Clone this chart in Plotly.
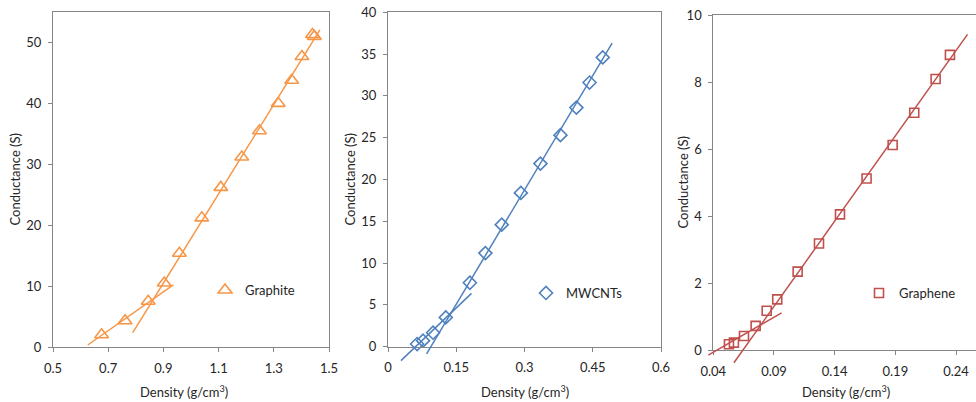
import plotly.graph_objects as go

W, H = 976, 402

# ---------------- data ----------------
graphite_density = [0.676, 0.761, 0.845, 0.903, 0.958, 1.039, 1.108, 1.184, 1.248,
                    1.316, 1.365, 1.402, 1.440, 1.447]
graphite_conductance = [2.0, 4.3, 7.5, 10.5, 15.4, 21.2, 26.2, 31.2, 35.5,
                        40.0, 43.8, 47.7, 51.3, 51.0]
graphite_fit_low_x = [0.626, 0.936]
graphite_fit_low_y = [0.33, 10.2]
graphite_fit_high_x = [0.789, 1.467]
graphite_fit_high_y = [2.35, 52.05]

mwcnt_density = [0.064, 0.077, 0.099, 0.127, 0.180, 0.214, 0.250, 0.292, 0.335,
                 0.379, 0.414, 0.443, 0.472]
mwcnt_conductance = [0.32, 0.72, 1.67, 3.5, 7.65, 11.2, 14.6, 18.4, 21.9,
                     25.3, 28.6, 31.6, 34.6]
mwcnt_fit_low_x = [0.0285, 0.1835]
mwcnt_fit_low_y = [-1.67, 6.38]
mwcnt_fit_high_x = [0.0848, 0.4926]
mwcnt_fit_high_y = [-0.87, 36.3]

graphene_density = [0.0529, 0.0570, 0.0653, 0.0749, 0.0840, 0.0927, 0.1095, 0.1271,
                    0.1444, 0.1663, 0.1878, 0.2056, 0.2232, 0.2350]
graphene_conductance = [0.17, 0.22, 0.42, 0.72, 1.17, 1.51, 2.34, 3.18,
                        4.05, 5.12, 6.12, 7.08, 8.09, 8.81]
graphene_fit_low_x = [0.0359, 0.0963]
graphene_fit_low_y = [-0.15, 1.11]
graphene_fit_high_x = [0.0570, 0.2495]
graphene_fit_high_y = [-0.38, 9.42]

graphite_xticks = [0.5, 0.7, 0.9, 1.1, 1.3, 1.5]
graphite_xticklabels = ["0.5", "0.7", "0.9", "1.1", "1.3", "1.5"]
graphite_yticks = [0, 10, 20, 30, 40, 50]
mwcnt_xticks = [0, 0.15, 0.3, 0.45, 0.6]
mwcnt_xticklabels = ["0", "0.15", "0.3", "0.45", "0.6"]
mwcnt_yticks = [0, 5, 10, 15, 20, 25, 30, 35, 40]
graphene_xticks = [0.04, 0.09, 0.14, 0.19, 0.24]
graphene_xticklabels = ["0.04", "0.09", "0.14", "0.19", "0.24"]
graphene_yticks = [0, 2, 4, 6, 8, 10]

# ---------------- styling ----------------
FONT = "Lato, 'Open Sans', sans-serif"
TXT = "#262626"
AX = "#868686"
C_GRAPHITE = "#F79646"
C_MWCNT = "#4F81BD"
C_GRAPHENE = "#C0504D"
EXT = 22  # px of extra room for the trend-line layer (lines run past the axes)

panels = [
    dict(name="Graphite", x=graphite_density, y=graphite_conductance,
         fits=[(graphite_fit_low_x, graphite_fit_low_y), (graphite_fit_high_x, graphite_fit_high_y)],
         color=C_GRAPHITE, symbol="triangle-up-open", msize=12,
         px=(53, 329), py=(12, 347), xr=[0.5, 1.5], yr=[0, 55],
         xt=graphite_xticks, xtl=graphite_xticklabels, yt=graphite_yticks,
         ymirror=True, legend_px=(205, 290), xtitle_x=184, ytitle_x=15),
    dict(name="MWCNTs", x=mwcnt_density, y=mwcnt_conductance,
         fits=[(mwcnt_fit_low_x, mwcnt_fit_low_y), (mwcnt_fit_high_x, mwcnt_fit_high_y)],
         color=C_MWCNT, symbol="diamond-open", msize=10,
         px=(388, 661), py=(12.3, 346.7), xr=[0, 0.6], yr=[0, 40],
         xt=mwcnt_xticks, xtl=mwcnt_xticklabels, yt=mwcnt_yticks,
         ymirror=True, legend_px=(526, 293), xtitle_x=525, ytitle_x=350),
    dict(name="Graphene", x=graphene_density, y=graphene_conductance,
         fits=[(graphene_fit_low_x, graphene_fit_low_y), (graphene_fit_high_x, graphene_fit_high_y)],
         color=C_GRAPHENE, symbol="square-open", msize=9,
         px=(713.3, 976), py=(15, 350), xr=[0.04, 0.04 + (976 - 713.3) / 1213.5], yr=[0, 10],
         xt=graphene_xticks, xtl=graphene_xticklabels, yt=graphene_yticks,
         ymirror=False, legend_px=(859, 293), xtitle_x=846, ytitle_x=682),
]

fig = go.Figure()
layout = dict(
    width=W, height=H,
    margin=dict(l=0, r=0, t=0, b=0, pad=0, autoexpand=False),
    paper_bgcolor="white", plot_bgcolor="rgba(0,0,0,0)",
    font=dict(family=FONT, size=13, color=TXT),
    annotations=[],
)

for i, p in enumerate(panels):
    k = i + 1
    ko = i + 4  # overlay (trend-line) axes
    xa, ya = f"x{'' if k == 1 else k}", f"y{'' if k == 1 else k}"
    xo, yo = f"x{ko}", f"y{ko}"
    l, r = p["px"]
    t, b = p["py"]
    xdom = [l / W, min(r / W, 1.0)]
    ydom = [1 - b / H, 1 - t / H]

    legname = "legend" if k == 1 else f"legend{k}"

    fig.add_trace(go.Scatter(
        x=p["x"], y=p["y"], mode="markers", name=p["name"],
        marker=dict(symbol=p["symbol"], size=p["msize"], color=p["color"],
                    line=dict(width=1.6, color=p["color"])),
        xaxis=xa, yaxis=ya, cliponaxis=False, legend=legname, showlegend=True))

    for fx, fy in p["fits"]:
        fig.add_trace(go.Scatter(
            x=fx, y=fy, mode="lines", showlegend=False, hoverinfo="skip",
            line=dict(color=p["color"], width=1.5),
            xaxis=xo, yaxis=yo))

    common = dict(showgrid=False, zeroline=False, showline=True, linecolor=AX, linewidth=1,
                  ticks="outside", ticklen=4, tickcolor=AX, tickwidth=1, automargin=False,
                  tickfont=dict(family=FONT, size=13, color=TXT))
    layout[f"xaxis{'' if k == 1 else k}"] = dict(
        domain=xdom, range=p["xr"], anchor=ya, tickmode="array",
        tickvals=p["xt"], ticktext=p["xtl"], mirror=True, ticklabelstandoff=5, **common)
    layout[f"yaxis{'' if k == 1 else k}"] = dict(
        domain=ydom, range=p["yr"], anchor=xa, tickmode="array",
        tickvals=p["yt"], mirror=p["ymirror"], ticklabelstandoff=4, **common)

    # overlay axes with identical scale but extra room left/below, so lines are not clipped
    xspan = (p["xr"][1] - p["xr"][0]) / (xdom[1] - xdom[0]) / W  # data per px
    yspan = (p["yr"][1] - p["yr"][0]) / (ydom[1] - ydom[0]) / H
    layout[f"xaxis{ko}"] = dict(
        domain=[(l - EXT) / W, xdom[1]], range=[p["xr"][0] - EXT * xspan, p["xr"][1]],
        anchor=yo, visible=False, showgrid=False, zeroline=False, fixedrange=True,
        automargin=False)
    layout[f"yaxis{ko}"] = dict(
        domain=[1 - (b + EXT) / H, ydom[1]], range=[p["yr"][0] - EXT * yspan, p["yr"][1]],
        anchor=xo, visible=False, showgrid=False, zeroline=False, fixedrange=True,
        automargin=False)

    lx, ly = p["legend_px"]
    layout[legname] = dict(x=lx / W, y=1 - ly / H, xanchor="left", yanchor="middle",
                           bgcolor="rgba(0,0,0,0)", borderwidth=0,
                           font=dict(family=FONT, size=13, color=TXT),
                           itemwidth=30, tracegroupgap=0)

    layout["annotations"].append(dict(
        text="Density (g/cm<sup>3</sup>)", xref="paper", yref="paper",
        x=p["xtitle_x"] / W, y=1 - 391 / H, showarrow=False,
        xanchor="center", yanchor="middle", font=dict(family=FONT, size=13, color=TXT)))
    layout["annotations"].append(dict(
        text="Conductance (S)", xref="paper", yref="paper", textangle=-90,
        x=p["ytitle_x"] / W, y=1 - ((t + b) / 2) / H, showarrow=False,
        xanchor="center", yanchor="middle", font=dict(family=FONT, size=13, color=TXT)))

fig.update_layout(**layout)
fig.write_html("out.html")
